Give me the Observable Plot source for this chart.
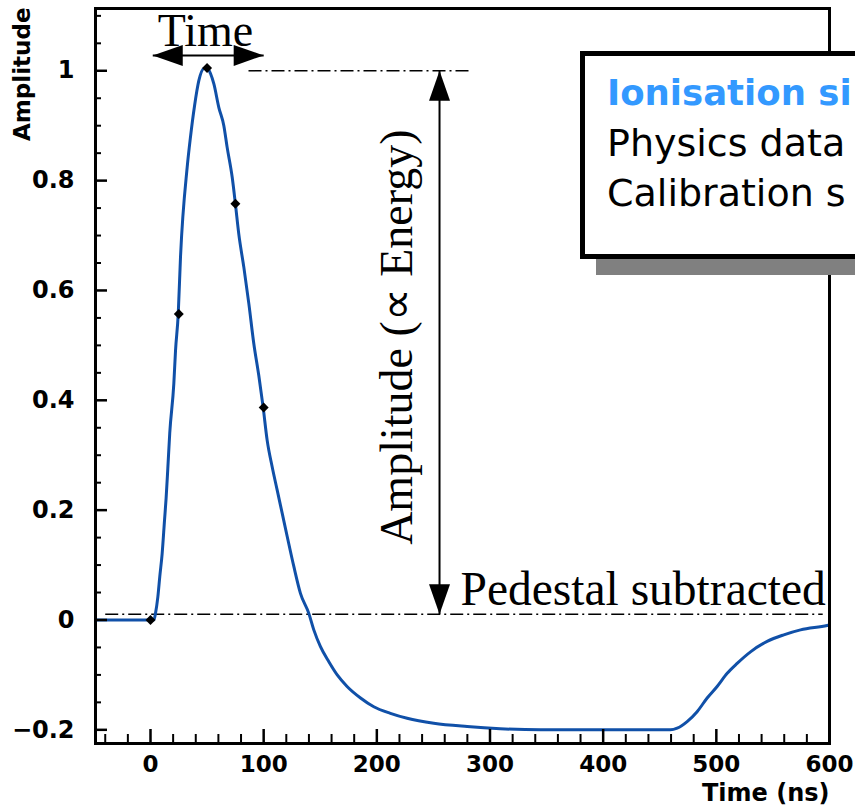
<!DOCTYPE html>
<html>
<head>
<meta charset="utf-8">
<script src="https://cdn.jsdelivr.net/npm/d3@7"></script>
<script src="https://cdn.jsdelivr.net/npm/@observablehq/plot@0.6"></script>
<style>
  html, body { margin: 0; padding: 0; background: #fff; overflow: hidden; }
  #wrap { position: relative; width: 855px; height: 810px; overflow: hidden; }
  #legend {
    position: absolute; left: 580px; top: 51px; width: 330px; height: 208px;
    box-sizing: border-box; border: 5px solid #000; background: #fff;
    box-shadow: 16px 16px 0 #808080;
    padding: 12px 0 0 22px;
    font-family: "DejaVu Sans", sans-serif; font-size: 38px; line-height: 50px;
    white-space: nowrap;
  }
  #legend .l1 { color: #3399ff; font-weight: bold; font-size: 35.5px; }
  #legend div { color: #000; }
</style>
</head>
<body>
<div id="wrap">
  <div id="chart"></div>
  <div id="legend">
    <div class="l1" style="color:#3399ff">Ionisation si</div>
    <div>Physics data</div>
    <div>Calibration s</div>
  </div>
</div>
<script>
// ---- data ----
const time = [-48.5, -20, 3, 4.4, 6.5, 8.2, 10.3, 12.4, 13.8, 15.3, 17, 20.6, 22.1, 24.5, 26.5, 32.4, 35.3, 38.9, 42.7, 47, 50, 53, 56, 60.4, 64.8, 67.7, 72.2, 75, 78, 82.5, 86.9, 91.3, 95.7, 99.5, 103.1, 107.5, 112, 116.4, 120.8, 126.7, 132.5, 139.9, 144.3, 150.2, 157.6, 165, 173.7, 185.6, 197.3, 212, 226.8, 250.3, 279.8, 309, 344.6, 400, 459.5, 465.4, 474.2, 483, 491.9, 500.7, 509.6, 518.4, 530.2, 544.9, 559.6, 574.4, 597.9, 600];
const amplitude = [0, 0, 0, 0.012, 0.042, 0.079, 0.121, 0.182, 0.222, 0.276, 0.34, 0.43, 0.49, 0.557, 0.66, 0.824, 0.879, 0.936, 0.982, 1.004, 1.005, 0.995, 0.976, 0.933, 0.9, 0.861, 0.806, 0.758, 0.703, 0.642, 0.576, 0.503, 0.445, 0.388, 0.327, 0.279, 0.236, 0.194, 0.152, 0.097, 0.0485, 0.012, -0.018, -0.0485, -0.076, -0.1, -0.121, -0.142, -0.158, -0.17, -0.179, -0.188, -0.194, -0.198, -0.2, -0.2, -0.2, -0.197, -0.185, -0.167, -0.142, -0.121, -0.097, -0.079, -0.058, -0.039, -0.027, -0.018, -0.01, -0.009];
const sampleTime = [0, 25, 50, 75, 100];
const sampleAmp = [0, 0.557, 1.005, 0.758, 0.387];

const xMajor = [0, 100, 200, 300, 400, 500, 600];
const xMajorLabels = ["0", "100", "200", "300", "400", "500", "600"];
const xMinor = [-40, -20, 20, 40, 60, 80, 120, 140, 160, 180, 220, 240, 260, 280, 320, 340, 360, 380, 420, 440, 460, 480, 520, 540, 560, 580];
const yMajor = [-0.2, 0, 0.2, 0.4, 0.6, 0.8, 1];
const yMajorLabels = ["\u22120.2", "0", "0.2", "0.4", "0.6", "0.8", "1"];
const yMinor = [-0.15, -0.1, -0.05, 0.05, 0.1, 0.15, 0.25, 0.3, 0.35, 0.45, 0.5, 0.55, 0.65, 0.7, 0.75, 0.85, 0.9, 0.95, 1.05, 1.1];

const xLabel = "Time (ns)";
const yLabel = "Amplitude";
const peakLevel = 1.0;
const pedestalLevel = 0.0106;

// ---- build ----
const signal = time.map((t, i) => ({t, a: amplitude[i]}));
const samples = sampleTime.map((t, i) => ({t, a: sampleAmp[i]}));

const headShape = {
  draw(ctx) { ctx.moveTo(0, 0); ctx.lineTo(-10.5, 30); ctx.lineTo(10.5, 30); ctx.closePath(); }
};

const serif = "'Liberation Serif', 'Times New Roman', serif";
const sans = "'DejaVu Sans', sans-serif";

// annotation geometry (data coordinates)
const timeArrow = {x1: 2, x2: 100, y: 1.028};
const ampArrow = {x: 255.4, y1: peakLevel, y2: pedestalLevel};
const dashed = [
  {x1: 86.6, x2: 284.5, y: peakLevel},
  {x1: -40, x2: 594, y: pedestalLevel}
];
const heads = [
  {x: timeArrow.x1, y: timeArrow.y, r: -90},
  {x: timeArrow.x2, y: timeArrow.y, r: 90},
  {x: ampArrow.x, y: ampArrow.y1, r: 0},
  {x: ampArrow.x, y: ampArrow.y2, r: 180}
];

const chart = Plot.plot({
  width: 855,
  height: 810,
  marginLeft: 95,
  marginRight: 26,
  marginTop: 8,
  marginBottom: 67,
  style: {fontFamily: sans, fontSize: "23px", fontWeight: "bold", color: "#000", background: "#fff"},
  x: {domain: [-48.6, 600]},
  y: {domain: [-0.2249, 1.1134]},
  marks: [
    // dash-dot reference lines
    Plot.link(dashed, {x1: "x1", x2: "x2", y1: "y", y2: "y", stroke: "#000", strokeWidth: 1.5, strokeDasharray: "13,4,2,4"}),
    // signal
    Plot.line(signal, {x: "t", y: "a", stroke: "#1050a8", strokeWidth: 3, curve: "monotone-x"}),
    Plot.dot(samples, {x: "t", y: "a", symbol: "diamond2", r: 4.5, fill: "#000", stroke: "none"}),
    // arrows
    Plot.link([timeArrow], {x1: "x1", x2: "x2", y1: "y", y2: "y", stroke: "#000", strokeWidth: 2}),
    Plot.link([ampArrow], {x1: "x", x2: "x", y1: "y1", y2: "y2", stroke: "#000", strokeWidth: 2}),
    Plot.dot(heads, {x: "x", y: "y", rotate: "r", symbol: headShape, fill: "#000", stroke: "none"}),
    // annotation texts
    Plot.text(["Time"], {x: 48.6, y: 1.046, text: d => d, fontFamily: serif, fontSize: 46, fontWeight: "normal", lineAnchor: "bottom", textAnchor: "middle", fill: "#000"}),
    Plot.text(["Amplitude (\u221D Energy)"], {x: 231.5, y: 0.515, text: d => d, rotate: -90, fontFamily: serif, fontSize: 46, fontWeight: "normal", lineAnchor: "bottom", textAnchor: "middle", fill: "#000"}),
    Plot.text(["Pedestal subtracted"], {x: 273.9, y: 0.0264, text: d => d, fontFamily: serif, fontSize: 47.5, fontWeight: "normal", lineAnchor: "bottom", textAnchor: "start", fill: "#000"}),
    // axes (ticks pointing inward)
    Plot.axisY({anchor: "left", ticks: yMajor, tickSize: 12, dx: 12, tickPadding: 21, strokeWidth: 2.5, label: null,
      tickFormat: d => yMajorLabels[yMajor.indexOf(d)], fontFamily: sans, fontSize: 24, fontWeight: "bold"}),
    Plot.axisY({anchor: "left", ticks: yMinor, tickSize: 6, dx: 6, strokeWidth: 2, label: null, tickFormat: () => ""}),
    Plot.axisX({anchor: "bottom", ticks: xMajor, tickSize: 14, dy: -14, tickPadding: 12, strokeWidth: 2.5, label: null,
      tickFormat: d => xMajorLabels[xMajor.indexOf(d)], fontFamily: sans, fontSize: 23, fontWeight: "bold"}),
    Plot.axisX({anchor: "bottom", ticks: xMinor, tickSize: 9, dy: -9, strokeWidth: 2, label: null, tickFormat: () => ""}),
    Plot.frame({stroke: "#000", strokeWidth: 3}),
    // axis titles
    Plot.text([xLabel], {frameAnchor: "bottom-right", text: d => d, dy: 57, lineAnchor: "bottom", textAnchor: "end", fontFamily: sans, fontSize: 24, fontWeight: "bold", fill: "#000"}),
    Plot.text([yLabel], {frameAnchor: "top-left", text: d => d, dx: -66, dy: -1, rotate: -90, lineAnchor: "bottom", textAnchor: "end", fontFamily: sans, fontSize: 23, fontWeight: "bold", fill: "#000"})
  ]
});
document.getElementById("chart").appendChild(chart);
</script>
</body>
</html>
